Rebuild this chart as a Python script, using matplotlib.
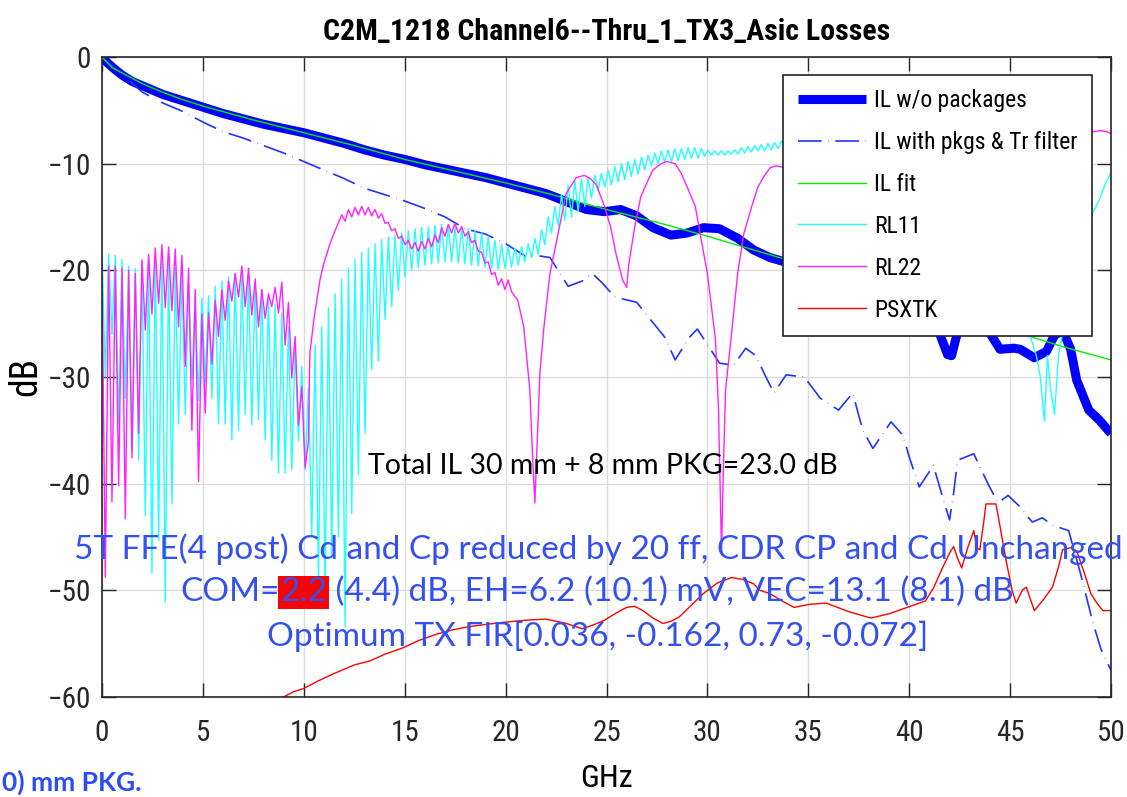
import numpy as np
import matplotlib
matplotlib.use("Agg")
import matplotlib.pyplot as plt
from matplotlib import font_manager as fm

# ------------------------------------------------------------------ data
# insertion loss without packages (thick blue)
il_f = [0, 0.3, 0.6, 1.0, 1.5, 2.0, 2.5, 3.0, 4.0, 5.0, 6.0, 7.0, 8.0, 9.0, 10.0,
        11.0, 12.0, 13.0, 14.0, 15.0, 16.0, 17.0, 18.0, 19.0, 20.0, 21.0, 22.0,
        22.4, 23.2, 24.0, 24.9, 25.7, 26.5, 27.3, 28.2, 29.0, 29.8, 30.6, 31.5,
        32.3, 33.1, 34.0, 35.0, 36.0, 37.0, 38.0, 39.0, 40.0, 41.0, 41.5, 41.9,
        42.1, 42.3, 42.6, 43.3, 43.8, 44.0, 44.5, 45.2, 45.5, 46.2, 46.8, 47.2,
        47.6, 48.0, 48.3, 48.9, 49.4, 50.0]
il_db = [0, -0.6, -1.1, -1.7, -2.3, -2.7, -3.1, -3.5, -4.1, -4.7, -5.3, -5.8, -6.3,
         -6.7, -7.1, -7.6, -8.1, -8.7, -9.2, -9.6, -10.1, -10.5, -10.9, -11.3,
         -11.8, -12.3, -12.8, -13.1, -13.7, -14.3, -14.5, -14.3, -14.9, -16.0,
         -16.7, -16.5, -16.0, -16.1, -17.0, -18.1, -18.8, -19.3, -19.8, -20.3,
         -20.8, -21.5, -22.3, -23.3, -24.6, -25.9, -27.9, -28.0, -26.5, -24.5,
         -23.5, -24.5, -25.9, -27.4, -27.3, -27.4, -28.2, -27.6, -26.1, -25.6,
         -27.4, -30.3, -33.1, -34.0, -35.3]

# insertion loss with packages & Tr filter (dash-dot blue)
ilp_f = [0, 0.5, 1.0, 2.0, 3.0, 4.0, 5.0, 6.0, 7.0, 8.0, 9.0, 10.0, 11.0, 12.0,
         13.0, 14.0, 15.0, 16.0, 17.0, 18.0, 19.0, 20.0, 21.0, 21.5, 22.2, 23.1,
         23.8, 24.3, 24.8, 25.4, 26.5, 27.0, 27.9, 28.4, 29.1, 29.5, 30.6, 31.3,
         31.9, 32.4, 32.9, 33.3, 33.9, 34.8, 35.6, 36.5, 37.2, 37.7, 38.2, 39.1,
         39.7, 40.0, 40.5, 41.2, 41.6, 42.0, 42.2, 42.4, 43.2, 43.9, 44.4, 44.9,
         45.4, 46.1, 46.6, 47.1, 47.9, 48.5, 49.1, 49.5, 50.0]
ilp_db = [0, -0.8, -1.6, -3.3, -4.3, -5.1, -6.1, -7.0, -7.6, -8.3, -9.0, -9.8,
          -10.6, -11.4, -12.3, -12.9, -13.5, -14.2, -15.0, -16.1, -16.6, -17.5,
          -18.7, -18.6, -18.8, -21.5, -21.0, -20.3, -21.2, -22.5, -23.0, -24.2,
          -26.3, -28.4, -26.3, -25.5, -28.7, -28.9, -27.3, -28.0, -30.0, -31.5,
          -29.8, -30.0, -32.0, -33.1, -31.5, -35.0, -36.7, -34.2, -35.5, -37.5,
          -40.3, -38.3, -40.9, -43.4, -40.9, -37.8, -37.2, -40.0, -41.8, -41.1,
          -42.0, -43.6, -43.2, -43.9, -44.4, -48.5, -53.0, -55.5, -57.5]

# IL fit (green)
fit_f = [0, 0.5, 1, 2, 3, 4, 5, 7.5, 10, 12.5, 15, 17.5, 20, 22.5, 25, 27.5, 30,
         32.5, 35, 37.5, 40, 42.5, 45, 47.5, 50]
fit_db = [0, -1.0, -1.5, -2.5, -3.3, -4.0, -4.6, -5.9, -7.1, -8.3, -9.6, -10.7,
          -11.8, -13.0, -14.3, -15.5, -16.8, -18.2, -19.6, -21.0, -22.6, -24.1,
          -25.6, -27.1, -28.4]

# return loss ripple: one peak and one trough per ripple cycle
RL_CYCLE = 0.33  # GHz per ripple cycle

rl11_peak = [-18.3, -18.5, -18.6, -19.0, -19.6, -19.8, -19.2, -18.7, -18.5, -18.6,
             -19.2, -19.8, -20.4, -21.4, -22.3, -22.6, -22.4, -21.5, -21.0, -20.6,
             -20.4, -20.1, -20.4, -21.2, -21.8, -22.5, -23.2, -24.0, -25.3, -27.0,
             -29.0, -31.0, -27.0, -25.3, -23.5, -22.2, -20.8, -19.8, -19.0, -18.3,
             -17.9, -17.5, -17.1, -16.9, -16.7, -16.5, -16.3, -16.1, -16.0, -15.9,
             -15.8, -15.7, -15.8, -15.9, -16.0, -16.1, -16.3, -16.5, -16.8, -17.2,
             -17.6, -17.8, -17.9, -17.8, -17.5, -17.0, -16.2, -15.0, -14.0, -12.9,
             -12.0, -11.6, -11.4, -11.3, -11.1, -10.9, -10.6, -10.3, -10.0, -9.8,
             -9.6, -9.4, -9.2, -9.0, -8.8, -8.7, -8.6, -8.6, -8.5, -8.5,
             -8.6, -8.7, -8.8, -8.8, -8.8, -8.7, -8.5, -8.4, -8.3, -8.2,
             -8.1, -8.0, -7.9, -7.8, -7.7]
rl11_trough = [-30.0, -26.0, -34.3, -32.0, -37.0, -37.8, -43.0, -48.4, -45.3, -51.1,
               -41.9, -34.4, -33.5, -30.3, -32.2, -30.5, -32.0, -34.4, -34.4, -35.9,
               -35.0, -33.5, -34.5, -34.0, -35.9, -37.8, -39.0, -39.0, -38.7, -36.0,
               -38.7, -45.0, -49.0, -50.0, -47.0, -45.0, -53.4, -42.8, -39.2, -35.3,
               -29.3, -28.5, -24.6, -23.4, -21.9, -20.6, -20.0, -19.8, -19.5, -19.4,
               -19.3, -19.2, -19.2, -19.3, -19.4, -19.5, -19.6, -19.7, -19.8, -19.9,
               -19.8, -19.7, -19.5, -19.2, -18.8, -18.5, -17.6, -16.5, -15.8, -15.3,
               -15.0, -14.5, -14.0, -13.2, -12.5, -12.2, -12.0, -11.7, -11.5, -11.2,
               -11.0, -10.6, -10.2, -10.0, -9.9, -9.8, -9.7, -9.6, -9.5, -9.5,
               -9.3, -9.2, -9.2, -9.2, -9.1, -9.1, -9.0, -8.9, -8.8, -8.8,
               -8.7, -8.6, -8.5, -8.4, -8.3]
rl11_tail_f = [34.8, 38.0, 42.0, 44.0, 45.5, 46.0, 46.3, 46.5, 46.7, 46.85, 47.0,
               47.2, 47.4, 47.6, 48.0, 48.6, 49.1, 49.4, 49.7, 50.0]
rl11_tail_db = [-7.6, -7.5, -8.0, -12.0, -22.0, -26.2, -28.0, -30.0, -34.2, -28.0,
                -31.0, -33.5, -28.0, -25.9, -20.0, -17.0, -14.6, -13.5, -12.0, -10.8]

rl22_peak = [-19.8, -19.6, -19.6, -19.8, -20.0, -20.3, -19.0, -18.5, -17.9, -17.6,
             -17.8, -18.0, -18.6, -19.8, -21.8, -24.1, -24.0, -22.8, -21.8, -21.0,
             -20.3, -19.6, -19.8, -20.8, -21.8, -22.2, -21.6, -21.1, -23.0, -26.2,
             -30.9]
rl22_trough = [-48.8, -41.7, -40.2, -43.3, -37.6, -35.3, -25.6, -24.1, -23.1, -23.5,
               -23.8, -25.3, -29.0, -35.0, -39.8, -33.4, -28.8, -26.2, -24.7, -22.9,
               -22.5, -23.4, -24.2, -25.3, -24.5, -23.4, -24.0, -27.0, -30.1, -34.5,
               -38.5]
rl22_rise_f = [10.23, 10.3, 10.5, 10.8, 11.0, 11.3, 11.5, 11.7]
rl22_rise_db = [-36.0, -27.8, -24.6, -20.9, -19.3, -17.5, -16.5, -15.6]
RL22_MID_START = 11.88
rl22_mid_peak = [-14.8, -14.3, -14.1, -14.0, -14.1, -14.3, -14.7, -15.5, -16.1, -16.8,
                 -17.2, -17.4, -17.3, -17.0, -16.7, -16.0, -15.7, -15.6, -15.9, -16.4,
                 -17.2, -18.3, -19.2, -20.2, -20.8, -20.9]
rl22_mid_trough = [-15.4, -15.0, -14.8, -14.8, -14.9, -15.1, -15.6, -16.3, -17.0, -17.6,
                   -18.0, -18.2, -18.0, -17.8, -17.4, -16.8, -16.5, -16.5, -16.8, -17.4,
                   -18.2, -19.3, -20.4, -21.4, -21.8, -22.0]
rl22_tail_f = [20.6, 20.9, 21.2, 21.35, 21.45, 21.55, 21.7, 21.9, 22.2, 22.5, 23.0,
               23.5, 23.9, 24.2, 24.5, 24.9, 25.2, 25.5, 25.8, 26.0, 26.1, 26.4,
               26.7, 27.0, 27.3, 27.7, 28.0, 28.4, 28.7, 29.0, 29.4, 29.7, 30.0,
               30.4, 30.55, 30.7, 30.8, 30.9, 31.2, 31.5, 31.8, 32.2, 32.5, 32.8,
               33.1, 33.4, 33.9, 34.3, 36.0, 38.0, 40.0, 42.0, 44.0, 46.0, 48.0,
               49.1, 49.5, 49.8, 50.0]
rl22_tail_db = [-22.8, -25.3, -31.2, -38.0, -41.8, -37.0, -29.6, -25.3, -20.3, -17.5,
                -12.8, -11.3, -11.1, -11.4, -12.0, -14.0, -15.9, -18.7, -20.9, -21.6,
                -19.5, -15.9, -13.1, -11.8, -10.6, -10.0, -9.8, -10.0, -10.9, -12.2,
                -14.0, -17.2, -20.3, -26.5, -33.0, -46.5, -38.0, -31.2, -25.9, -20.3,
                -16.6, -14.0, -12.2, -11.2, -10.4, -10.2, -10.4, -10.6, -12.0, -15.0,
                -12.0, -9.0, -8.0, -7.5, -7.2, -7.0, -6.9, -7.0, -7.2]

# power-sum crosstalk (red)
xt_f = [9.0, 9.5, 10.0, 10.7, 11.5, 12.5, 13.3, 14.0, 14.9, 15.7, 16.6, 17.4, 18.2,
        19.0, 19.9, 21.0, 22.0, 23.0, 23.8, 24.4, 24.9, 25.5, 26.0, 26.4, 26.8,
        27.3, 27.8, 28.2, 28.6, 29.2, 29.8, 30.5, 31.2, 31.8, 32.3, 32.6, 33.1,
        33.7, 34.3, 35.1, 35.9, 37.0, 38.1, 39.0, 40.2, 40.8, 41.2, 41.6, 42.0,
        42.2, 42.4, 42.6, 42.9, 43.2, 43.35, 43.5, 43.7, 43.8, 44.3, 44.5, 44.8,
        45.1, 45.3, 45.6, 45.8, 46.0, 46.2, 46.6, 47.1, 47.4, 47.6, 48.0, 48.3,
        48.7, 49.0, 49.3, 49.6, 50.0]
xt_db = [-60.0, -59.5, -59.2, -58.5, -57.8, -57.0, -56.6, -56.0, -55.4, -54.7, -54.1,
         -53.7, -53.4, -53.2, -53.0, -52.8, -52.7, -53.1, -53.6, -53.2, -52.8, -52.1,
         -51.6, -51.5, -51.9, -52.6, -53.1, -52.9, -52.5, -51.4, -50.3, -49.3, -48.8,
         -49.0, -49.4, -50.0, -50.3, -51.0, -51.6, -51.3, -51.2, -52.0, -52.6, -52.2,
         -51.4, -51.0, -49.8, -48.1, -46.5, -45.9, -47.0, -47.9, -46.0, -44.4, -46.0,
         -46.2, -43.5, -41.9, -41.9, -44.0, -47.2, -50.0, -51.2, -50.0, -49.7, -50.8,
         -51.9, -51.0, -49.7, -47.8, -46.2, -46.0, -46.3, -48.5, -50.3, -51.2, -51.9,
         -51.9]

legend_labels = ["IL w/o packages", "IL with pkgs & Tr filter", "IL fit",
                 "RL11", "RL22", "PSXTK"]
x_ticks = [0, 5, 10, 15, 20, 25, 30, 35, 40, 45, 50]
y_ticks = [-60, -50, -40, -30, -20, -10, 0]

title_text = "C2M_1218 Channel6--Thru_1_TX3_Asic Losses"
note_il = "Total IL 30 mm + 8 mm PKG=23.0 dB"
note_1 = "5T FFE(4 post) Cd and Cp reduced by 20 ff, CDR CP and Cd Unchanged"
note_2a = "COM="
note_2b = "2.2"
note_2c = " (4.4) dB, EH=6.2 (10.1) mV, VEC=13.1 (8.1) dB"
note_3 = "Optimum TX FIR[0.036, -0.162, 0.73, -0.072]"
footer = "0) mm PKG."


# ------------------------------------------------------------------ helpers
def interleave(start, peaks, troughs):
    f, v = [], []
    for k, (p, t) in enumerate(zip(peaks, troughs)):
        f += [start + k * RL_CYCLE, start + (k + 0.5) * RL_CYCLE]
        v += [p, t]
    return f, v


def pick(cands):
    for c in cands:
        try:
            fm.findfont(fm.FontProperties(family=c), fallback_to_default=False)
            return c
        except Exception:
            pass
    return "DejaVu Sans"


NARROW = pick(["Liberation Sans Narrow", "Arial Narrow", "Roboto Condensed",
               "Liberation Sans"])
SLIDE = pick(["Lato", "Open Sans", "DejaVu Sans"])

plt.rcParams["lines.scale_dashes"] = False

rl11_f, rl11_db = interleave(0.0, rl11_peak, rl11_trough)
rl11_f += rl11_tail_f
rl11_db += rl11_tail_db

a_f, a_db = interleave(0.0, rl22_peak, rl22_trough)
m_f, m_db = interleave(RL22_MID_START, rl22_mid_peak, rl22_mid_trough)
rl22_f = a_f + rl22_rise_f + m_f + rl22_tail_f
rl22_db = a_db + rl22_rise_db + m_db + rl22_tail_db

# ------------------------------------------------------------------ figure
W, H = 1127, 797
fig = plt.figure(figsize=(W / 100, H / 100), dpi=100)
ax = fig.add_axes([102 / W, 1 - 697 / H, (1111 - 102) / W, (697 - 57) / H])

ax.plot(il_f, il_db, color="#0000ff", lw=6.5, solid_capstyle="butt",
        solid_joinstyle="round", label=legend_labels[0])
ax.plot(ilp_f, ilp_db, color="#2233ff", lw=1.2, dashes=(17, 4.8, 0.3, 4.8),
        label=legend_labels[1])
ax.plot(fit_f, fit_db, color="#00ee00", lw=1.0, label=legend_labels[2])
ax.plot(rl11_f, rl11_db, color="#22ffff", lw=1.0, label=legend_labels[3])
ax.plot(rl22_f, rl22_db, color="#ff22ff", lw=1.0, label=legend_labels[4])
ax.plot(xt_f, xt_db, color="#ff0000", lw=1.0, label=legend_labels[5])

ax.set_xlim(0, 50)
ax.set_ylim(-60, 0)
ax.set_xticks(x_ticks)
ax.set_yticks(y_ticks)
ax.tick_params(direction="in", length=10, width=1, top=True, right=True,
               labelsize=21, colors="#262626")
ax.tick_params(axis="x", pad=16)
ax.tick_params(axis="y", pad=8)
for lab in ax.get_xticklabels() + ax.get_yticklabels():
    lab.set_family(NARROW)
ax.grid(True, color="#dcdcdc", lw=1)
ax.set_axisbelow(True)
for s in ax.spines.values():
    s.set_color("#262626")
    s.set_linewidth(1.2)

ax.set_title(title_text, fontsize=21.5, fontweight="bold", family=NARROW, pad=12)
ax.set_xlabel("GHz", fontsize=23, family=NARROW, labelpad=12)
ax.set_ylabel("dB", fontsize=27, family=NARROW, labelpad=2)

leg = ax.legend(loc="upper right", bbox_to_anchor=(0.981, 0.972), borderaxespad=0,
                prop={"family": NARROW, "size": 17}, frameon=True, fancybox=False,
                framealpha=1, edgecolor="#222222", handlelength=2.9,
                handletextpad=0.35, labelspacing=0.8, borderpad=0.6)
leg.get_frame().set_linewidth(1.2)

blue = "#3350f0"
ax.text(24.8, -38.3, note_il, fontsize=20.5, family=SLIDE, color="black",
        ha="center", va="center")
ax.text(24.6, -46.15, note_1, fontsize=24, family=SLIDE, color=blue,
        ha="center", va="center")
t2a = ax.text(3.9, -50.2, note_2a, fontsize=24, family=SLIDE, color=blue,
              ha="left", va="center")
t2b = ax.annotate(note_2b, xy=(1, 0), xycoords=t2a, ha="left", va="bottom",
                  fontsize=24, family=SLIDE, color=blue,
                  bbox=dict(boxstyle="square,pad=0.05", fc="#ff0000", ec="none"))
ax.annotate(note_2c, xy=(1, 0), xycoords=t2b, ha="left", va="bottom",
            fontsize=24, family=SLIDE, color=blue)
ax.text(24.55, -54.3, note_3, fontsize=24, family=SLIDE, color=blue,
        ha="center", va="center")

fig.text(0.002, 1 - 782 / H, footer, fontsize=19, fontweight="bold",
         family=SLIDE, color="#2a4cf0", ha="left", va="center")

fig.savefig("out.png", dpi=100)
